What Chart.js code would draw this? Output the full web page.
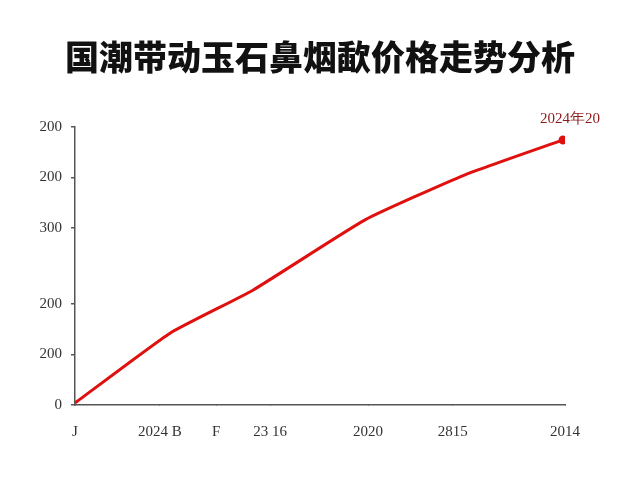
<!DOCTYPE html>
<html>
<head>
<meta charset="utf-8">
<script src="https://cdn.jsdelivr.net/npm/chart.js@4.4.1/dist/chart.umd.min.js"></script>
<style>
  html, body { margin: 0; padding: 0; background: #ffffff; }
  #wrap { width: 640px; height: 480px; }
</style>
</head>
<body>
<div id="wrap"><canvas id="c" width="640" height="480"></canvas></div>
<script>
const titleText = "国潮带动玉石鼻烟歃价格走势分析";
const xValues = [0, 19.4, 36.3, 59.2, 79.6, 99.6];
const priceValues = [4, 142, 227, 366, 455, 524];
const xTickValues = [0, 17.3, 28.8, 39.8, 59.8, 77.1, 100];
const xTickLabels = ["J", "2024 B", "F", "23 16", "2020", "2815", "2014"];
const yTickValues = [0, 100, 200, 350, 450, 550];
const yTickLabels = ["0", "200", "200", "300", "200", "200"];
const endLabel = "2024年20";

const points = xValues.map((x, i) => ({ x: x, y: priceValues[i] }));

const endLabelPlugin = {
  id: 'endLabel',
  afterDatasetsDraw(chart) {
    const meta = chart.getDatasetMeta(0);
    const last = meta.data[meta.data.length - 1];
    const ctx = chart.ctx;
    ctx.save();
    ctx.font = '15px "Liberation Serif", "DejaVu Serif", serif';
    ctx.fillStyle = '#8b1a1a';
    ctx.textAlign = 'center';
    ctx.textBaseline = 'middle';
    ctx.fillText(endLabel, last.x + 7, last.y - 21);
    ctx.restore();
  }
};

new Chart(document.getElementById('c'), {
  type: 'line',
  data: {
    datasets: [{
      data: points,
      borderColor: '#e0100f',
      backgroundColor: '#e0100f',
      borderWidth: 3,
      tension: 0.15,
      pointRadius: points.map((p, i) => i === points.length - 1 ? 3 : 0),
      pointHoverRadius: 0,
      fill: false
    }]
  },
  options: {
    responsive: false,
    animation: false,
    devicePixelRatio: 1,
    layout: { padding: { left: 0, right: 0, top: 0, bottom: 0 } },
    plugins: {
      legend: { display: false },
      tooltip: { enabled: false },
      title: {
        display: true,
        text: titleText,
        color: '#111111',
        font: { family: '"Noto Sans CJK SC", sans-serif', size: 34, weight: '900' },
        padding: { top: 37, bottom: 49 }
      }
    },
    scales: {
      x: {
        type: 'linear',
        min: 0,
        max: 100,
        afterBuildTicks(scale) { scale.ticks = xTickValues.map(v => ({ value: v })); },
        afterFit(scale) { scale.height = 75; },
        border: { display: true, color: '#555555', width: 1.5 },
        grid: { display: true, drawOnChartArea: false, drawTicks: true, tickLength: 0, color: '#555555' },
        ticks: {
          autoSkip: false,
          maxRotation: 0,
          padding: 18,
          color: '#333333',
          font: { family: '"Liberation Serif", "DejaVu Serif", serif', size: 15 },
          callback(value, index) { return xTickLabels[index]; }
        }
      },
      y: {
        type: 'linear',
        min: 0,
        max: 550,
        afterBuildTicks(scale) { scale.ticks = yTickValues.map(v => ({ value: v })); },
        afterFit(scale) { scale.width = 75; },
        border: { display: true, color: '#555555', width: 1.5 },
        grid: { display: true, drawOnChartArea: false, drawTicks: true, tickLength: 4, color: '#555555', lineWidth: 1.5 },
        ticks: {
          autoSkip: false,
          padding: 9,
          color: '#333333',
          font: { family: '"Liberation Serif", "DejaVu Serif", serif', size: 15 },
          callback(value, index) { return yTickLabels[index]; }
        }
      },
      yRight: {
        type: 'linear',
        position: 'right',
        min: 0,
        max: 550,
        afterFit(scale) { scale.width = 75; },
        border: { display: false },
        grid: { display: false },
        ticks: { display: false }
      }
    }
  },
  plugins: [endLabelPlugin]
});
</script>
</body>
</html>
